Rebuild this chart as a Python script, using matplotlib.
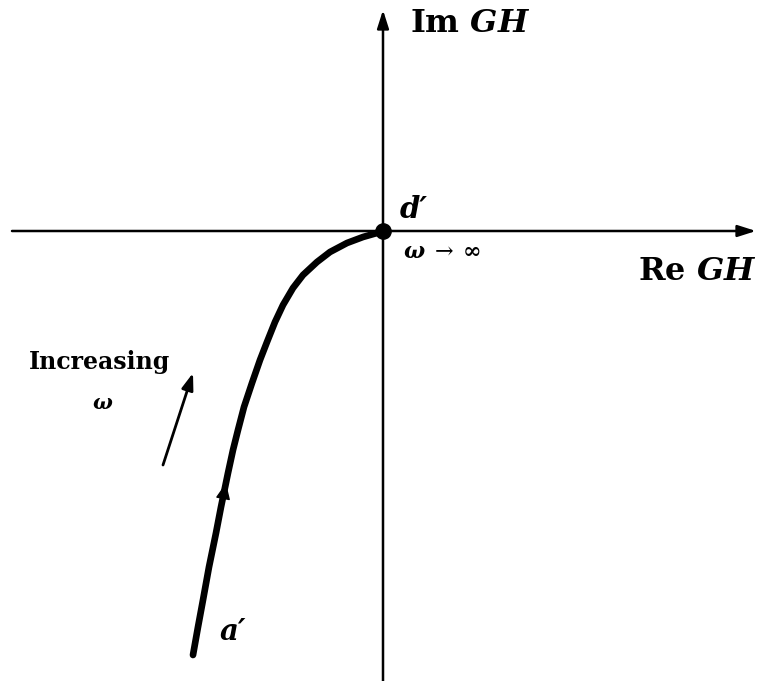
import matplotlib.pyplot as plt

# Nyquist locus of GH near the high-frequency end, coordinates relative to the origin
re_gh = [-190, -185, -180, -174, -167, -162, -155, -150, -145, -139, -131, -123,
         -116, -108, -100, -90, -80, -66, -53, -36, -20, -6, 0]
im_gh = [-424, -396, -369, -336, -302, -276, -242, -219, -199, -176, -152, -129,
         -111, -91, -74, -57, -44, -31, -21, -12, -6, -2, 0]

plt.rcParams['font.family'] = ['DejaVu Serif']
plt.rcParams['mathtext.fontset'] = 'dejavuserif'

fig = plt.figure(figsize=(7.59, 6.81), dpi=100)
ax = fig.add_axes([0, 0, 1, 1])
ax.set_xlim(-383, 376)
ax.set_ylim(-450, 231)
ax.set_aspect('equal')
ax.axis('off')

axis_arrow = dict(arrowstyle='-|>,head_length=1.1,head_width=0.35', color='black',
                  lw=1.8, shrinkA=0, shrinkB=0)
# real and imaginary axes
ax.annotate('', xy=(373, 0), xytext=(-371, 0), arrowprops=axis_arrow)
ax.annotate('', xy=(0, 221), xytext=(0, -452), arrowprops=axis_arrow)

# locus and end point
ax.plot(re_gh, im_gh, color='black', lw=4.8, solid_capstyle='round',
        solid_joinstyle='round', zorder=3)
ax.plot([0], [0], 'o', color='black', ms=11, zorder=4)

# direction mark on the locus
ax.annotate('', xy=(-157, -252), xytext=(-162, -278),
            arrowprops=dict(arrowstyle='-|>,head_length=1.0,head_width=0.45',
                            color='black', lw=1, shrinkA=0, shrinkB=0), zorder=5)

# free arrow next to the label
ax.annotate('', xy=(-190, -142), xytext=(-220, -234),
            arrowprops=dict(arrowstyle='-|>,head_length=1.0,head_width=0.35',
                            color='black', lw=2, shrinkA=0, shrinkB=0))

ax.text(27, 207, r'Im $\boldsymbol{GH}$', fontsize=23, fontweight='bold', va='center', ha='left')
ax.text(374, -40, r'Re $\boldsymbol{GH}$', fontsize=23, fontweight='bold', va='center', ha='right')
ax.text(17, 22, 'd\u2032', fontsize=21, fontweight='bold', fontstyle='italic',
        va='center', ha='left')
ax.text(20, -21, r'$\boldsymbol{\omega}\;\rightarrow\;\boldsymbol{\infty}$', fontsize=16,
        va='center', ha='left')
ax.text(-284, -131, 'Increasing', fontsize=17, fontweight='bold', va='center', ha='center')
ax.text(-280, -172, r'$\boldsymbol{\omega}$', fontsize=15, va='center', ha='center')
ax.text(-150, -400, 'a\u2032', fontsize=21, fontweight='bold', fontstyle='italic',
        va='center', ha='center')

fig.savefig('out.png', dpi=100)
